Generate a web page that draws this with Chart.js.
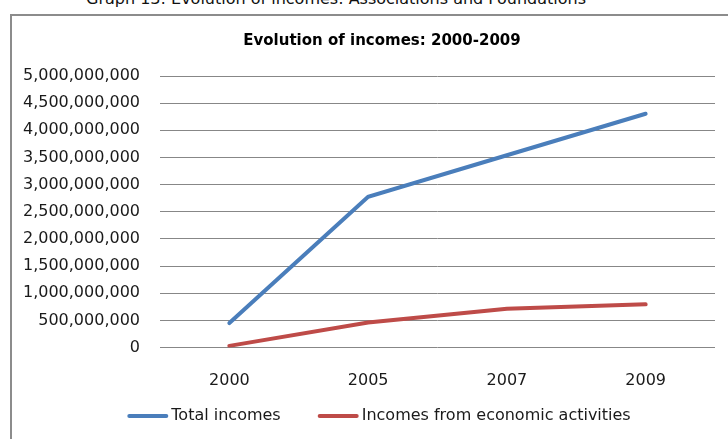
<!DOCTYPE html>
<html>
<head>
<meta charset="utf-8">
<script src="https://cdn.jsdelivr.net/npm/chart.js@4.4.1/dist/chart.umd.min.js"></script>
<style>
  html, body { margin: 0; padding: 0; background: #fff; }
  body { width: 728px; height: 439px; position: relative; overflow: hidden; }
  #caption {
    position: absolute; left: 0; top: -10px; width: 672px; text-align: center;
    font: 16px "DejaVu Sans", sans-serif; line-height: 18px; color: #111; white-space: nowrap;
  }
  #frame {
    position: absolute; left: 10px; top: 14px; width: 780px; height: 460px;
    border: 2px solid #8c8c8c; box-sizing: border-box;
  }
  #wrap { position: absolute; left: 10px; top: 0; width: 744px; height: 439px; }
</style>
</head>
<body>
<div id="caption">Graph 13: Evolution of incomes: Associations and Foundations</div>
<div id="frame"></div>
<div id="wrap"><canvas id="c" width="744" height="439"></canvas></div>
<script>
// Survey years on the horizontal axis
const years = ['2000', '2005', '2007', '2009'];

// Incomes of associations and foundations (in units of currency)
const totalIncomes = [450000000, 2775000000, 3540000000, 4305000000];
const economicIncomes = [30000000, 460000000, 715000000, 795000000];

// Series names shown in the legend
const seriesNames = ['Total incomes', 'Incomes from economic activities'];

// Vertical axis range
const yMin = 0;
const yMax = 5000000000;
const yStep = 500000000;

const FONT = '"DejaVu Sans", sans-serif';
const BLUE = '#4a7ebb';
const RED = '#be4b48';

// Legend drawn underneath the axis: a short line sample followed by the label
const lineLegend = {
  id: 'lineLegend',
  afterDraw(chart) {
    const ctx = chart.ctx;
    const sample = 41, gap = 3, between = 37, y = 416;
    ctx.save();
    ctx.font = '16px ' + FONT;
    ctx.textBaseline = 'middle';
    const items = chart.data.datasets.map(ds => ({
      label: ds.label, color: ds.borderColor, w: ctx.measureText(ds.label).width
    }));
    const total = items.reduce((s, it) => s + sample + gap + it.w, 0) + between * (items.length - 1);
    let x = 369 - total / 2;
    items.forEach(it => {
      ctx.strokeStyle = it.color;
      ctx.lineWidth = 4;
      ctx.lineCap = 'round';
      ctx.beginPath();
      ctx.moveTo(x + 2, y);
      ctx.lineTo(x + sample - 2, y);
      ctx.stroke();
      ctx.fillStyle = '#1a1a1a';
      ctx.fillText(it.label, x + sample + gap, y);
      x += sample + gap + it.w + between;
    });
    ctx.restore();
  }
};

new Chart(document.getElementById('c'), {
  type: 'line',
  data: {
    labels: years,
    datasets: [
      {
        label: seriesNames[0],
        data: totalIncomes,
        borderColor: BLUE,
        backgroundColor: BLUE,
        borderWidth: 4,
        pointRadius: 0,
        tension: 0,
        borderCapStyle: 'round'
      },
      {
        label: seriesNames[1],
        data: economicIncomes,
        borderColor: RED,
        backgroundColor: RED,
        borderWidth: 4,
        pointRadius: 0,
        tension: 0,
        borderCapStyle: 'round'
      }
    ]
  },
  options: {
    responsive: false,
    animation: false,
    layout: { padding: 0 },
    plugins: {
      legend: { display: false },
      tooltip: { enabled: false },
      title: {
        display: true,
        text: 'Evolution of incomes: 2000-2009',
        color: '#000',
        font: { family: FONT, size: 15, weight: 'bold' },
        padding: { top: 32, bottom: 26 }
      }
    },
    scales: {
      x: {
        offset: true,
        grid: { display: false },
        border: { display: false },
        ticks: { color: '#1a1a1a', font: { family: FONT, size: 16 }, padding: 16, maxRotation: 0 },
        afterFit(scale) { scale.height = 91.5; }
      },
      y: {
        min: yMin,
        max: yMax,
        border: { display: false },
        grid: { color: '#878787', lineWidth: 1, drawTicks: false },
        ticks: {
          stepSize: yStep,
          color: '#1a1a1a',
          font: { family: FONT, size: 16 },
          padding: 20,
          callback: v => Number(v).toLocaleString('en-US')
        },
        afterFit(scale) { scale.width = 150; }
      },
      y2: {
        position: 'right',
        display: true,
        grid: { display: false },
        border: { display: false },
        ticks: { display: false },
        afterFit(scale) { scale.width = 39; }
      }
    }
  },
  plugins: [lineLegend]
});
</script>
</body>
</html>
